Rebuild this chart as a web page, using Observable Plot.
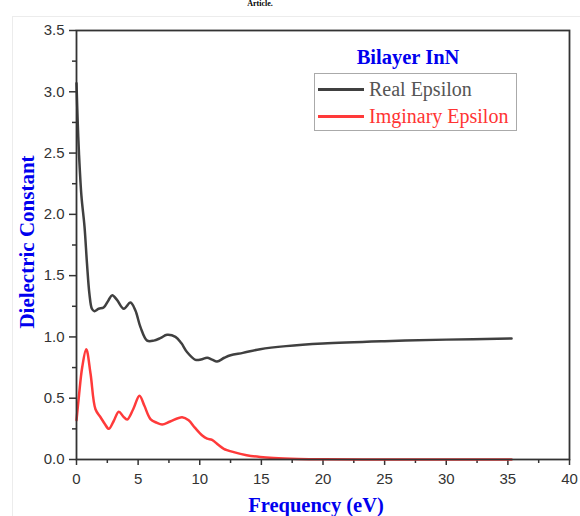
<!DOCTYPE html>
<html>
<head>
<meta charset="utf-8">
<script src="https://cdn.jsdelivr.net/npm/d3@7"></script>
<script src="https://cdn.jsdelivr.net/npm/@observablehq/plot@0.6"></script>
<style>
  html, body { margin: 0; padding: 0; background: #fff; overflow: hidden; }
  #wrap { position: relative; width: 580px; height: 516px; overflow: hidden; }
  #wrap svg { position: absolute; left: 0; top: 0; }
  .serif { font-family: "Liberation Serif", "Times New Roman", serif; }
</style>
</head>
<body>
<div id="wrap"></div>
<script>
// ---- data ----
const realX = [0, 0.1, 0.2, 0.4, 0.65, 0.85, 1.05, 1.25, 1.45, 1.8, 2.2, 2.6, 2.9, 3.3, 3.84, 4.38, 4.78, 5.19, 5.73, 6.27, 6.8, 7.35, 8.03, 8.5, 8.98, 9.65, 10.1, 10.6, 11.0, 11.4, 12.0, 12.5, 13.5, 14.9, 17, 20, 25, 30, 35.3];
const realY = [3.07, 2.75, 2.5, 2.15, 1.9, 1.6, 1.35, 1.23, 1.21, 1.23, 1.24, 1.3, 1.34, 1.3, 1.23, 1.28, 1.215, 1.08, 0.97, 0.97, 0.99, 1.017, 1.0, 0.95, 0.875, 0.813, 0.815, 0.83, 0.815, 0.80, 0.83, 0.85, 0.87, 0.90, 0.925, 0.946, 0.965, 0.978, 0.987];

const imagX = [0, 0.2, 0.46, 0.79, 1.14, 1.54, 1.95, 2.3, 2.62, 3.0, 3.43, 3.8, 4.11, 4.6, 5.11, 5.5, 6.0, 6.5, 6.95, 7.6, 8.57, 9.1, 9.6, 10.2, 10.6, 11.0, 11.5, 11.95, 12.76, 13.8, 14.9, 16, 18, 20, 25, 30, 35.3];
const imagY = [0.32, 0.52, 0.75, 0.90, 0.70, 0.41, 0.345, 0.29, 0.25, 0.31, 0.39, 0.35, 0.326, 0.41, 0.52, 0.44, 0.33, 0.30, 0.285, 0.31, 0.345, 0.32, 0.26, 0.196, 0.17, 0.16, 0.12, 0.087, 0.06, 0.035, 0.02, 0.012, 0.005, 0.002, 0, 0, 0];

const xMajorTicks = [0, 5, 10, 15, 20, 25, 30, 35, 40];
const xMinorTicks = [2.5, 7.5, 12.5, 17.5, 22.5, 27.5, 32.5, 37.5];
const yMajorTicks = [0, 0.5, 1.0, 1.5, 2.0, 2.5, 3.0, 3.5];
const yMinorTicks = [0.25, 0.75, 1.25, 1.75, 2.25, 2.75, 3.25];

const seriesNames = ["Real Epsilon", "Imginary Epsilon"];
const seriesColors = ["#404040", "#ff3a3a"];
const chartTitle = "Bilayer InN";
const xTitle = "Frequency (eV)";
const yTitle = "Dielectric Constant";
const topFragment = "Article.";

const real = realX.map((x, i) => ({x, y: realY[i]}));
const imag = imagX.map((x, i) => ({x, y: imagY[i]}));

const axisColor = "#333";
const plot = Plot.plot({
  width: 580,
  height: 516,
  marginLeft: 76,
  marginRight: 11,
  marginTop: 30,
  marginBottom: 57,
  style: {fontFamily: "'Liberation Sans', Arial, sans-serif", fontSize: "15px", color: "#333", background: "transparent"},
  x: {domain: [0, 40]},
  y: {domain: [0, 3.5]},
  marks: [
    Plot.axisX({ticks: xMajorTicks, tickSize: 6, tickPadding: 8, tickFormat: d => String(d), label: null, stroke: axisColor, strokeWidth: 1.5, fill: "#333", fontSize: 15}),
    Plot.axisX({ticks: xMinorTicks, tickSize: 4, tickFormat: () => "", label: null, stroke: axisColor, strokeWidth: 1.5}),
    Plot.axisY({ticks: yMajorTicks, tickSize: 7, tickPadding: 5, tickFormat: d3.format(".1f"), label: null, stroke: axisColor, strokeWidth: 1.5, fill: "#333", fontSize: 15}),
    Plot.axisY({ticks: yMinorTicks, tickSize: 4, tickFormat: () => "", label: null, stroke: axisColor, strokeWidth: 1.5}),
    Plot.lineY(imag, {x: "x", y: "y", stroke: seriesColors[1], strokeWidth: 2.5, curve: "catmull-rom"}),
    Plot.lineY(real, {x: "x", y: "y", stroke: seriesColors[0], strokeWidth: 2.5, curve: "catmull-rom"}),
    Plot.frame({stroke: axisColor, strokeWidth: 1.8})
  ]
});

const wrap = document.getElementById("wrap");

// faint page frame
const pf = document.createElement("div");
pf.style.cssText = "position:absolute;left:12px;top:16px;width:600px;height:600px;border-left:1px solid #ececec;border-top:1px solid #ececec;";
wrap.appendChild(pf);

wrap.appendChild(plot);

// small fragment at the very top
const frag = document.createElement("div");
frag.className = "serif";
frag.textContent = topFragment;
frag.style.cssText = "position:absolute;left:0;width:520px;text-align:center;top:0px;font-weight:bold;font-size:8px;line-height:8px;color:#000;";
wrap.appendChild(frag);

// axis titles
const xt = document.createElement("div");
xt.className = "serif";
xt.textContent = xTitle;
xt.style.cssText = "position:absolute;left:216px;width:200px;text-align:center;top:493px;font-weight:bold;font-size:20.5px;color:#0000ee;line-height:24px;";
wrap.appendChild(xt);

const yt = document.createElement("div");
yt.className = "serif";
yt.textContent = yTitle;
yt.style.cssText = "position:absolute;left:-73px;top:230px;width:200px;text-align:center;font-weight:bold;font-size:21px;color:#0000ee;line-height:24px;transform:rotate(-90deg);";
wrap.appendChild(yt);

// chart title
const ct = document.createElement("div");
ct.className = "serif";
ct.textContent = chartTitle;
ct.style.cssText = "position:absolute;left:316px;width:184px;text-align:center;top:45px;font-weight:bold;font-size:20.5px;color:#0000ee;line-height:24px;";
wrap.appendChild(ct);

// legend
const lg = document.createElement("div");
lg.style.cssText = "position:absolute;left:314px;top:73px;width:203px;height:58px;border:1px solid #aaa;box-sizing:border-box;";
seriesNames.forEach((name, i) => {
  const row = document.createElement("div");
  row.style.cssText = `position:absolute;left:3px;top:${3 + i * 27}px;height:24px;display:flex;align-items:center;white-space:nowrap;`;
  const sw = document.createElement("span");
  sw.style.cssText = `display:inline-block;width:46px;height:3px;background:${seriesColors[i]};margin-right:5px;`;
  const tx = document.createElement("span");
  tx.className = "serif";
  tx.textContent = name;
  tx.style.cssText = `font-size:20px;color:${i === 0 ? "#555" : "#ff3333"};`;
  row.appendChild(sw);
  row.appendChild(tx);
  lg.appendChild(row);
});
wrap.appendChild(lg);
</script>
</body>
</html>
